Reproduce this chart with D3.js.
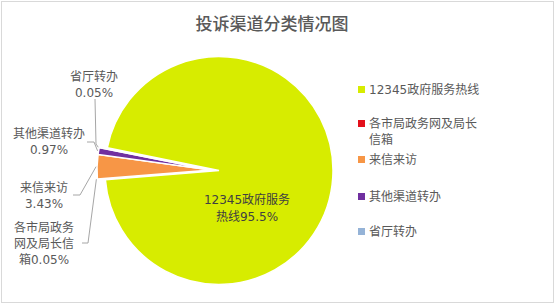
<!DOCTYPE html>
<html>
<head>
<meta charset="utf-8">
<script src="https://cdn.jsdelivr.net/npm/d3@7"></script>
<style>
  body { margin: 0; background: #fff; }
  svg { display: block; font-family: "DejaVu Sans", "Noto Sans CJK SC", sans-serif; }
</style>
</head>
<body>
<div id="chart"></div>
<script>
// DATA
const categories = ["12345政府服务热线", "各市局政务网及局长信箱", "来信来访", "其他渠道转办", "省厅转办"];
const shares = [95.5, 0.05, 3.43, 0.97, 0.05];
const legendLines = [["12345政府服务热线"], ["各市局政务网及局长", "信箱"], ["来信来访"], ["其他渠道转办"], ["省厅转办"]];
const labelLines = [
    ["12345政府服务", "热线95.5%"],
    ["各市局政务", "网及局长信", "箱0.05%"],
    ["来信来访", "3.43%"],
    ["其他渠道转办", "0.97%"],
    ["省厅转办", "0.05%"]
];
const colors = ["#d7ec00", "#e3101b", "#f79646", "#7030a0", "#95b3d7"];

const width = 556
const height = 304
const cx = 211, cy = 170, radius = 114
const explode = 8

const svg = d3.select("#chart")
    .append("svg")
    .attr("width", width)
    .attr("height", height);

// chart frame
svg.append("rect")
    .attr("x", 1.5).attr("y", 1.5)
    .attr("width", width - 4).attr("height", height - 3)
    .attr("fill", "#fff")
    .attr("stroke", "#d9d9d9");

svg.append("text")
    .attr("x", 272).attr("y", 30)
    .attr("text-anchor", "middle")
    .attr("font-size", 17)
    .attr("font-weight", 500)
    .attr("fill", "#595959")
    .text("投诉渠道分类情况图");

const startDeg = 281.5
const pie = d3.pie()
    .sort(null)
    .value(d => d)
    .startAngle(startDeg * Math.PI / 180)
    .endAngle(startDeg * Math.PI / 180 + 2 * Math.PI);

const arcs = pie(shares);
const arc = d3.arc().innerRadius(0).outerRadius(radius);

const pieG = svg.append("g").attr("transform", `translate(${cx},${cy})`);

// the big slice is pulled out a little to the right
pieG.selectAll("path")
    .data(arcs)
    .join("path")
    .attr("transform", (d, i) => {
        if (i !== 0) return null;
        const mid = (d.startAngle + d.endAngle) / 2;
        return `translate(${explode * Math.sin(mid)},${-explode * Math.cos(mid)})`;
    })
    .attr("d", arc)
    .attr("fill", (d, i) => colors[i])
    .attr("stroke", "#fff")
    .attr("stroke-width", 1.5);

// inside label for the big slice
const inLabel = svg.append("text")
    .attr("text-anchor", "middle")
    .attr("font-size", 12)
    .attr("fill", "#404040");
labelLines[0].forEach((t, k) => {
    inLabel.append("tspan")
        .attr("x", 247).attr("y", 204 + k * 17)
        .text(t);
});

// outside labels: text center x, first line y, leader line anchors
const labelPos = {
    1: { x: 44, y: 232, lead: [[82, 243], [88, 243]] },
    2: { x: 44, y: 192, lead: [[73, 195], [80, 195]] },
    3: { x: 49, y: 138, lead: [[87, 142], [94, 142]] },
    4: { x: 94, y: 81, lead: [[95, 99], [96, 144]] }
};

const line = d3.line();
[1, 2, 3, 4].forEach(i => {
    const d = arcs[i];
    const mid = (d.startAngle + d.endAngle) / 2;
    const edge = [cx + (radius + 1) * Math.sin(mid), cy - (radius + 1) * Math.cos(mid)];
    const p = labelPos[i];
    svg.append("path")
        .attr("d", line([...p.lead, edge]))
        .attr("fill", "none")
        .attr("stroke", "#a6a6a6")
        .attr("stroke-width", 1);
    const t = svg.append("text")
        .attr("text-anchor", "middle")
        .attr("font-size", 12)
        .attr("fill", "#595959");
    labelLines[i].forEach((s, k) => {
        t.append("tspan").attr("x", p.x).attr("y", p.y + k * 16).text(s);
    });
});

// legend
const legendY = [90, 124, 160, 197, 232];
const legend = svg.append("g");
categories.forEach((c, i) => {
    legend.append("rect")
        .attr("x", 358).attr("y", legendY[i] - 4)
        .attr("width", 7).attr("height", 7)
        .attr("fill", colors[i]);
    const t = legend.append("text")
        .attr("font-size", 12)
        .attr("fill", "#595959");
    legendLines[i].forEach((s, k) => {
        t.append("tspan").attr("x", 369).attr("y", legendY[i] + 4 + k * 16).text(s);
    });
});
</script>
</body>
</html>
